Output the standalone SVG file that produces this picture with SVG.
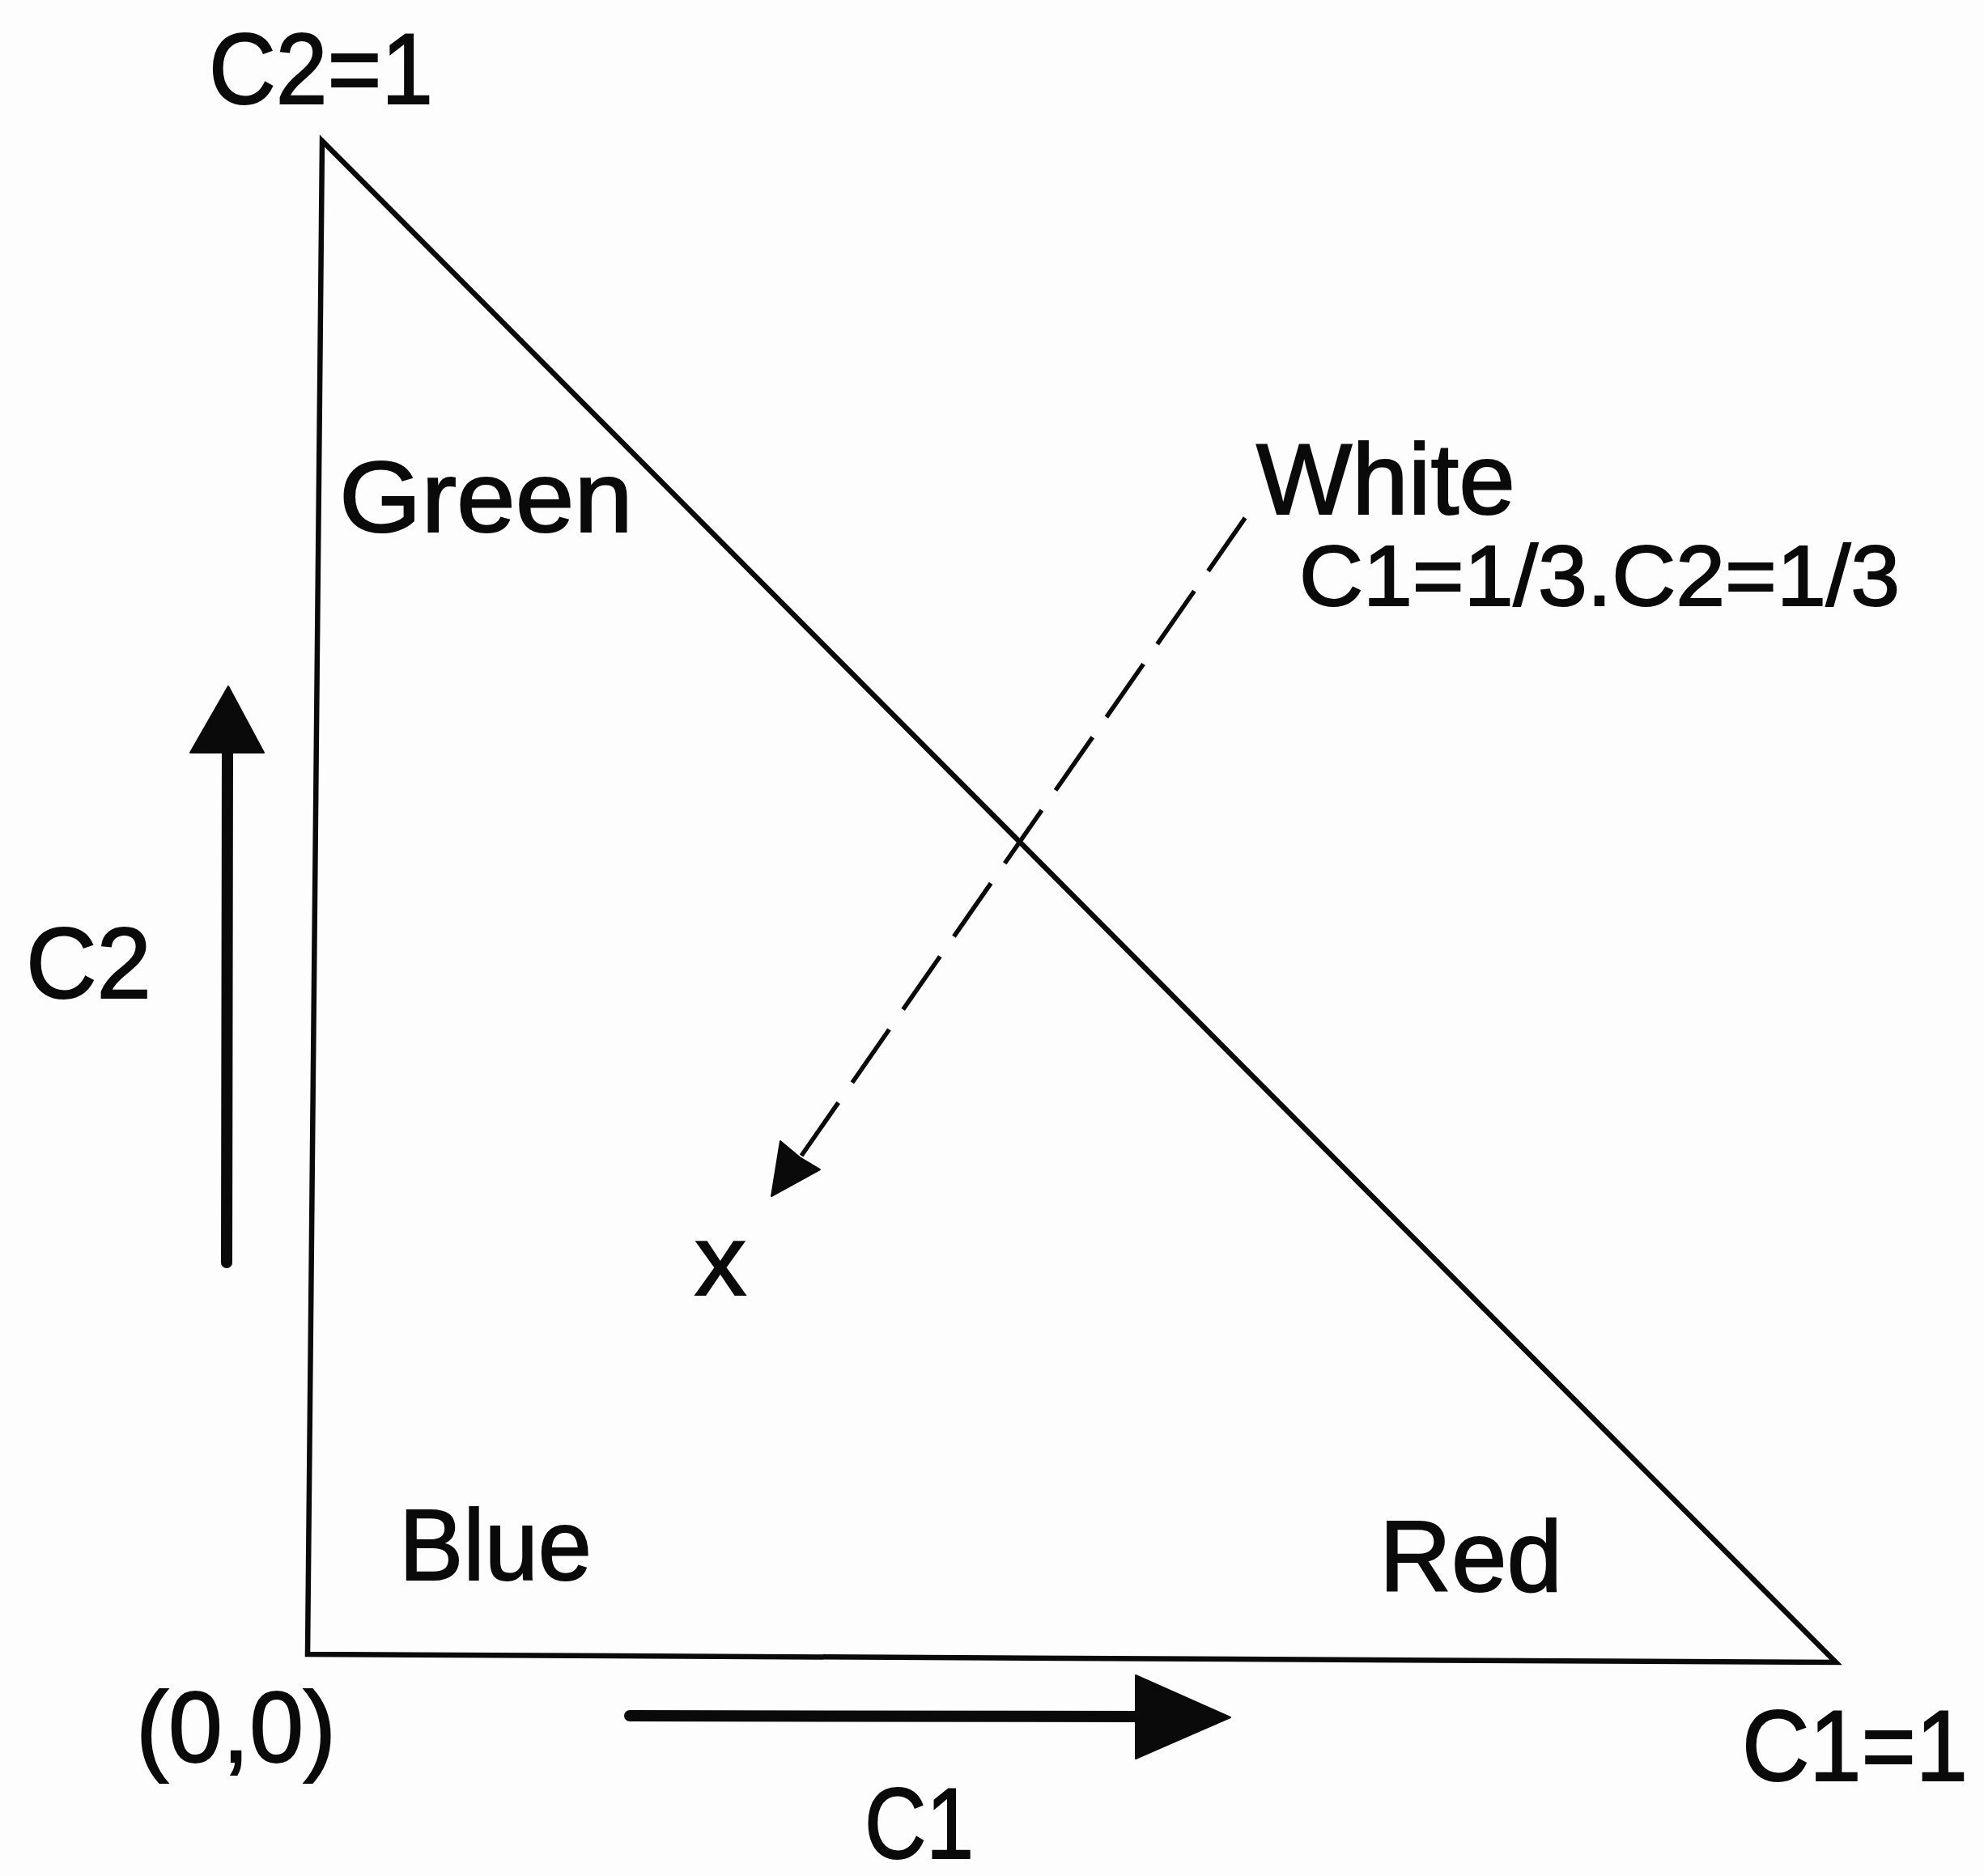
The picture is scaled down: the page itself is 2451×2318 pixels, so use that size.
<svg xmlns="http://www.w3.org/2000/svg" width="2451" height="2318" viewBox="0 0 2451 2318">
  <style>
    .lbl { font-family: "Liberation Sans", "DejaVu Sans", sans-serif; fill: #0a0a0a; stroke: #0a0a0a; stroke-width: 2; font-size: 124px; }
    .small { font-size: 105px; stroke-width: 2; }
    .edge { fill: none; stroke: #0a0a0a; stroke-width: 6.5; stroke-linejoin: miter; }
    .axis { stroke: #0a0a0a; stroke-width: 14; stroke-linecap: round; }
    .dash { stroke: #0a0a0a; stroke-width: 5.5; stroke-dasharray: 80 30; fill: none; }
    .head { fill: #0a0a0a; stroke: #0a0a0a; stroke-width: 2; stroke-linejoin: round; }
  </style>
  <rect width="2451" height="2318" fill="#fdfdfd"/>

  <g id="triangle">
    <polygon class="edge" points="398,174 380,2044 2268,2054"/>
  </g>

  <g id="connectors">
    <g id="c2-axis-arrow">
      <line class="axis" x1="280" y1="1560" x2="281" y2="925"/>
      <polygon class="head" points="282,848 235,930 326,930"/>
    </g>
    <g id="c1-axis-arrow">
      <line class="axis" x1="778" y1="2120" x2="1410" y2="2121"/>
      <polygon class="head" points="1520,2122 1403,2070 1403,2173"/>
    </g>
    <g id="white-to-x">
      <line class="dash" x1="990" y1="1428" x2="1543" y2="633"/>
      <polygon class="head" points="953,1478 964,1410 988,1430 1013,1445"/>
    </g>
  </g>

  <g id="label-c2-1"><text class="lbl" x="258" y="128" textLength="277" lengthAdjust="spacingAndGlyphs">C2=1</text></g>
  <g id="label-green"><text class="lbl" x="419" y="657" textLength="363" lengthAdjust="spacingAndGlyphs">Green</text></g>
  <g id="label-white"><text class="lbl" x="1552" y="635" textLength="320" lengthAdjust="spacingAndGlyphs">White</text></g>
  <g id="label-white-coords"><text class="lbl small" x="1605" y="748" textLength="742" lengthAdjust="spacingAndGlyphs">C1=1/3.C2=1/3</text></g>
  <g id="label-c2"><text class="lbl" x="32" y="1233" textLength="155" lengthAdjust="spacingAndGlyphs">C2</text></g>
  <g id="label-x"><text class="lbl" x="858" y="1600" font-size="132" textLength="64" lengthAdjust="spacingAndGlyphs">x</text></g>
  <g id="label-blue"><text class="lbl" x="493" y="1952" textLength="238" lengthAdjust="spacingAndGlyphs">Blue</text></g>
  <g id="label-red"><text class="lbl" x="1704" y="1966" textLength="226" lengthAdjust="spacingAndGlyphs">Red</text></g>
  <g id="label-origin"><text class="lbl" x="168" y="2177" textLength="247" lengthAdjust="spacingAndGlyphs">(0,0)</text></g>
  <g id="label-c1"><text class="lbl" x="1068" y="2296" textLength="135" lengthAdjust="spacingAndGlyphs">C1</text></g>
  <g id="label-c1-1"><text class="lbl" x="2152" y="2200" textLength="279" lengthAdjust="spacingAndGlyphs">C1=1</text></g>
</svg>
